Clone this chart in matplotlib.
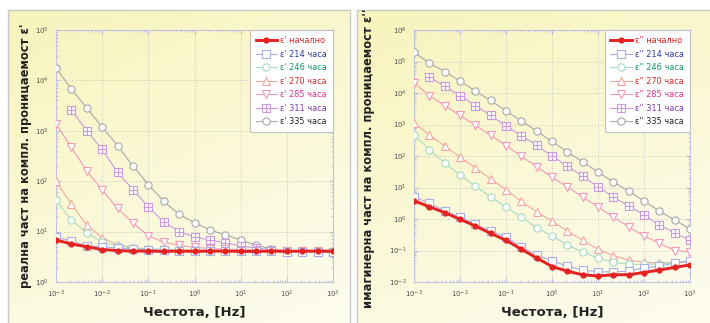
import numpy as np
import matplotlib
matplotlib.use('Agg')
import matplotlib.pyplot as plt
from matplotlib.path import Path
from matplotlib.patches import Rectangle

plt.rcParams['font.family'] = ['DejaVu Sans']

# честоти, Hz
freq = [0.001, 0.00215, 0.00464, 0.01, 0.0215, 0.0464, 0.1, 0.215, 0.464,
        1, 2.15, 4.64, 10, 21.5, 46.4, 100, 215, 464, 1000]

nan = float('nan')

# реална част eps'
re_start = [6.8, 5.7, 5.0, 4.4, 4.2, 4.1, 4.1, 4.05, 4.1, 4.05, 4.1, 4.1, 4.05, 4.05, 4.1, 4.05, 4.1, 4.1, 4.1]
re_214 = [7.8, 6.5, 5.2, 5.0, 4.7, 4.5, 4.4, 4.3, 4.2, 4.2, 4.15, 4.1, 4.1, 4.1, 4.05, 4.0, 4.0, 3.95, 3.9]
re_246 = [42, 17, 9.4, 6.2, 5.2, 4.7, 4.5, 4.4, 4.3, 4.2, 4.2, 4.15, 4.1, 4.1, 4.1, 4.05, 4.0, 4.0, 3.95]
re_270 = [100, 35, 13.5, 7.5, 5.5, 4.8, 4.5, 4.4, 4.3, 4.25, 4.2, 4.2, 4.15, 4.1, 4.1, 4.1, 4.05, 4.0, 4.0]
re_285 = [1360, 470, 160, 67, 29, 15, 8.2, 6.2, 5.3, 4.9, 4.6, 4.5, 4.4, 4.3, 4.2, 4.2, 4.1, 4.1, 4.0]
re_311 = [nan, 2600, 1000, 430, 150, 68, 31, 15.5, 10, 7.8, 6.8, 6.0, 5.2, 4.7, 4.4, 4.2, 4.1, 4.0, 3.9]
re_335 = [17600, 6800, 2830, 1190, 510, 200, 86, 40, 22, 15, 10.8, 8.6, 6.8, 5.4, 4.5, 4.1, 4.0, 3.95, 3.8]

# имагинерна част eps''
im_start = [3.8, 2.45, 1.6, 0.98, 0.6, 0.35, 0.21, 0.11, 0.058, 0.031, 0.022, 0.017, 0.0155, 0.017, 0.017, 0.020, 0.024, 0.029, 0.035]
im_214 = [5.0, 3.2, 1.8, 1.15, 0.69, 0.42, 0.27, 0.13, 0.072, 0.047, 0.032, 0.024, 0.021, 0.021, 0.022, 0.028, 0.032, 0.04, 0.045]
im_246 = [470, 160, 60, 25, 11, 5, 2.4, 1.15, 0.53, 0.29, 0.15, 0.09, 0.057, 0.042, 0.037, 0.036, 0.038, 0.041, 0.047]
im_270 = [1120, 470, 210, 92, 42, 19, 8.5, 3.6, 1.7, 0.85, 0.42, 0.21, 0.11, 0.068, 0.05, 0.042, 0.04, 0.041, 0.043]
im_285 = [21000, 8300, 4000, 1950, 960, 450, 215, 98, 46, 21, 10.5, 5, 2.4, 1.15, 0.56, 0.29, 0.17, 0.10, 0.09]
im_311 = [nan, 32000, 16600, 8300, 4000, 1950, 900, 440, 220, 100, 48, 23, 10.5, 5, 2.6, 1.35, 0.65, 0.36, 0.21]
im_335 = [200000, 89000, 48000, 24000, 11500, 5800, 2700, 1300, 620, 290, 135, 65, 31, 15, 7.7, 3.7, 1.8, 0.93, 0.48]

hours = ['начално', '214 часа', '246 часа', '270 часа', '285 часа', '311 часа', '335 часа']

# квадрат с кръст вътре
box_plus = Path([(-1, -1), (1, -1), (1, 1), (-1, 1), (-1, -1), (0, -1), (0, 1), (-1, 0), (1, 0)],
                [Path.MOVETO, Path.LINETO, Path.LINETO, Path.LINETO, Path.CLOSEPOLY,
                 Path.MOVETO, Path.LINETO, Path.MOVETO, Path.LINETO])

markers = ['o', 's', 'o', '^', 'v', box_plus, 'o']
line_colors = ['#e52222', '#a8aee6', '#a6dcc0', '#f2a8a0', '#f39ab8', '#cc99dd', '#a8a8a8']
text_colors = ['#e02020', '#2a3aa0', '#129a5a', '#d02a2a', '#e0308a', '#7a3aa8', '#222222']

W, H = 710, 323
fig = plt.figure(figsize=(W / 100, H / 100), dpi=100)
fig.patch.set_facecolor('white')

# фон на двата панела (жълт градиент)
bg = fig.add_axes([0, 0, 1, 1], zorder=-5)
bg.axis('off')
v = np.linspace(0, 1, 100)[:, None]
u = np.linspace(0, 1, 100)[None, :]
t = np.clip(0.75 * v + 0.35 * u, 0, 1)
top = np.array([248, 244, 188]) / 255
bot = np.array([253, 252, 236]) / 255
grad = top[None, None, :] * (1 - t[..., None]) + bot[None, None, :] * t[..., None]
for x0, x1 in [(8, 350), (357, 712)]:
    bg.imshow(grad, extent=(x0, x1, H + 5, 10), aspect='auto', interpolation='bilinear')
    bg.add_patch(Rectangle((x0, 10), x1 - x0, H, fill=False, ec='#c8c8c8', lw=1))
bg.set_xlim(0, W)
bg.set_ylim(H, 0)


def draw_panel(ax, series, prime, ylim, ylabel, lab_x, lab_y):
    for i, ys in enumerate(series):
        lab = 'ε' + prime + ' ' + hours[i]
        if i == 0:
            ax.plot(freq, ys, color=line_colors[0], lw=2.1, marker='o', ms=3.5,
                    mfc=line_colors[0], mec=line_colors[0], label=lab, zorder=10)
        else:
            ax.plot(freq, ys, color=line_colors[i], lw=0.8, marker=markers[i], ms=5.2,
                    mfc='white', mec=line_colors[i], mew=0.8, label=lab, zorder=10 - i)
    ax.set_xscale('log')
    ax.set_yscale('log')
    ax.set_xlim(1e-3, 1e3)
    ax.set_ylim(*ylim)
    ax.set_facecolor('none')
    ax.grid(True, which='major', color='#c8c8c8', ls=':', lw=0.7)
    for s in ax.spines.values():
        s.set_color('#c4c4e0')
        s.set_linewidth(0.8)
    ax.tick_params(which='both', direction='in', top=True, right=True,
                   color='#b8b8d8', labelsize=5, labelcolor='#505050', pad=5)
    ax.tick_params(which='major', length=3)
    ax.tick_params(which='minor', length=1.5)
    ax.set_xlabel('Честота, [Hz]', fontsize=9.5, fontweight='bold', color='#222222', labelpad=4)
    ax.set_ylabel(ylabel, fontsize=8.3, fontweight='bold', color='#222222')
    ax.yaxis.set_label_coords(lab_x, lab_y)
    leg = ax.legend(loc='upper right', fontsize=5.9, frameon=True, fancybox=False,
                    edgecolor='#c0c0c0', framealpha=1, borderaxespad=0.05,
                    handlelength=2.6, labelspacing=0.55, borderpad=0.7, handletextpad=0.4)
    leg.get_frame().set_linewidth(0.8)
    for txt, c in zip(leg.get_texts(), text_colors):
        txt.set_color(c)


ax1 = fig.add_axes([56 / W, 1 - 282 / H, (333 - 56) / W, (282 - 30) / H])
draw_panel(ax1, [re_start, re_214, re_246, re_270, re_285, re_311, re_335], "'",
           (1, 1e5), "реална част на компл. проницаемост ε'", -0.085, 0.5)

ax2 = fig.add_axes([414 / W, 1 - 282 / H, (690 - 414) / W, (282 - 30) / H])
draw_panel(ax2, [im_start, im_214, im_246, im_270, im_285, im_311, im_335], "''",
           (1e-2, 1e6), "имагинерна част на компл. проницаемост ε''", -0.14, 0.49)

fig.savefig('out.png', dpi=100)
